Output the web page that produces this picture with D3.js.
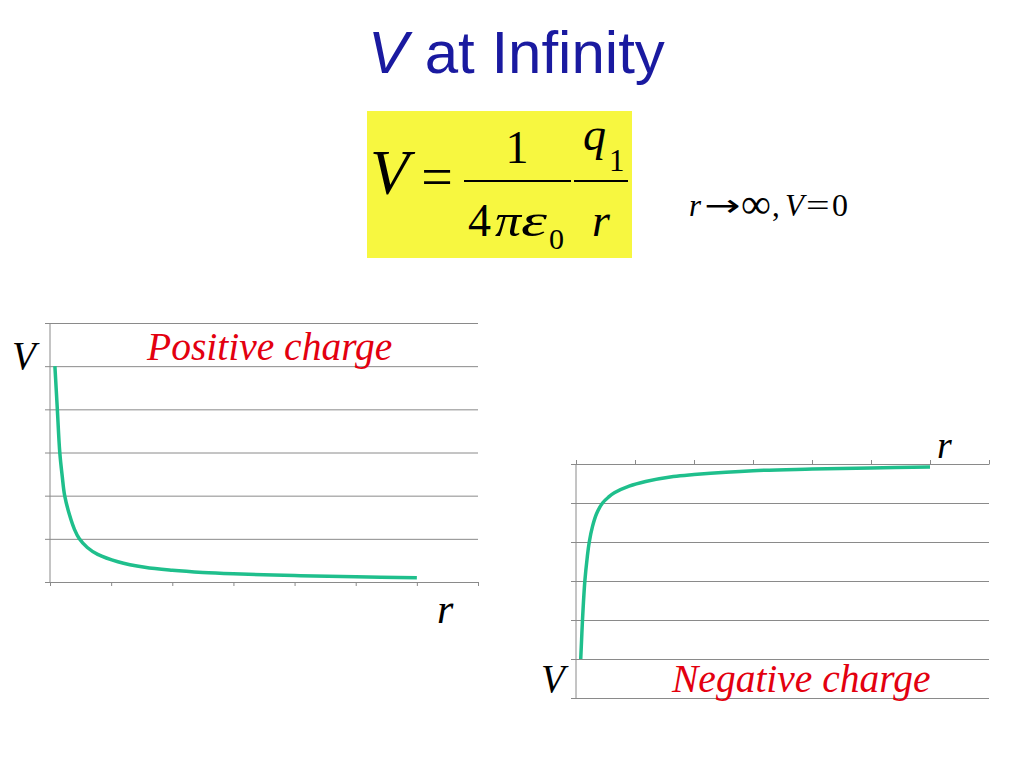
<!DOCTYPE html>
<html>
<head>
<meta charset="utf-8">
<script src="https://cdn.jsdelivr.net/npm/d3@7"></script>
<style>
  body { margin: 0; background: #fff; }
  svg { display: block; }
</style>
</head>
<body>
<div class="slide"></div>
<script>
// values (r in tick units, V in gridline units)
var posR = [0.08, 0.1, 0.12, 0.16, 0.2, 0.24, 0.32, 0.4, 0.48, 0.61, 0.78, 1.11, 1.55, 2.0, 2.5, 3.0, 4.0, 5.0, 6.0];
var posV = [5.0, 4.5, 4.0, 3.0, 2.45, 2.0, 1.55, 1.22, 1.0, 0.8, 0.64, 0.47, 0.34, 0.27, 0.22, 0.19, 0.15, 0.12, 0.1];
var negR = [0.08, 0.095, 0.11, 0.15, 0.19, 0.225, 0.28, 0.35, 0.45, 0.55, 0.65, 0.9, 1.18, 1.65, 2.0, 3.0, 4.0, 5.0, 6.0];
var negV = [-5.0, -4.5, -4.0, -3.0, -2.4, -2.0, -1.6, -1.27, -1.0, -0.85, -0.74, -0.57, -0.45, -0.32, -0.27, -0.17, -0.13, -0.1, -0.08];
var rTicks = [0, 1, 2, 3, 4, 5, 6, 7];
var posTicks = [0, 1, 2, 3, 4, 5, 6];
var negTicks = [-6, -5, -4, -3, -2, -1, 0];

var W = 1024, H = 768;
var gridColor = "#8a8a8a";
var curveColor = "#1fbf8c";
var red = "#e3000f";
var serif = "'Liberation Serif', 'Times New Roman', serif";

var svg = d3.select(".slide").append("svg").attr("width", W).attr("height", H);

// title
var title = svg.append("text").attr("x", 368).attr("y", 73)
    .attr("font-family", "'Liberation Sans', Arial, sans-serif").attr("font-size", 60).attr("fill", "#1a1aa0");
title.append("tspan").attr("font-style", "italic").text("V");
title.append("tspan").text(" at Infinity");

// formula box
svg.append("rect").attr("x", 367).attr("y", 111).attr("width", 265).attr("height", 147).attr("fill", "#f7f740");

function addText(x, y, size, txt, italic, anchor) {
    return svg.append("text").attr("x", x).attr("y", y).attr("font-family", serif)
        .attr("font-size", size).attr("font-style", italic ? "italic" : "normal")
        .attr("text-anchor", anchor || "start").attr("fill", "#000").text(txt);
}

// a symbol stretched sideways, placed by transform
function wideSymbol(x, y, sx, sy, size, family, txt) {
    return svg.append("text").attr("transform", "translate(" + x + "," + y + ") scale(" + sx + "," + sy + ")")
        .attr("font-family", family).attr("font-size", size).attr("fill", "#000").text(txt);
}

function fracBar(x1, x2) {
    svg.append("line").attr("x1", x1).attr("x2", x2).attr("y1", 181).attr("y2", 181)
        .attr("stroke", "#000").attr("stroke-width", 2);
}

addText(370, 194, 64, "V", true);
addText(437, 196, 56, "=", false, "middle");
fracBar(464, 571);
addText(517, 163, 46, "1", false, "middle");
addText(468, 236, 46, "4", false);
addText(495, 236, 46, "π", true).attr("textLength", 26).attr("lengthAdjust", "spacingAndGlyphs");
addText(521, 236, 46, "ε", true).attr("textLength", 26).attr("lengthAdjust", "spacingAndGlyphs");
addText(549, 249, 30, "0", false);
fracBar(574, 628);
addText(583, 150, 46, "q", true);
addText(609, 171, 31, "1", false);
addText(592, 236, 46, "r", true);

// r -> infinity, V = 0
addText(689, 216, 31, "r", true);
wideSymbol(704, 216, 1.55, 1.1, 28, "'DejaVu Sans', sans-serif", "→");
addText(741, 218, 42, "∞", false);
addText(772, 216, 31, ",", false);
addText(785, 216, 31, "V", true);
wideSymbol(806, 216, 1.35, 1, 31, serif, "=");
addText(832, 216, 32, "0", false);

function drawChart(opts) {
    var g = svg.append("g");
    var x = d3.scaleLinear().domain([0, 7]).range([opts.x0, opts.x1]);
    var y = d3.scaleLinear().domain(opts.yDomain).range([opts.y1, opts.y0]);

    // horizontal gridlines with short outer ticks on the left
    var yAxis = g.append("g").attr("transform", "translate(" + opts.x0 + ",0)")
        .call(d3.axisLeft(y).tickValues(opts.yTicks).tickSize(-(opts.x1 - opts.x0)).tickFormat(""));
    yAxis.select(".domain").remove();
    yAxis.selectAll(".tick line").attr("x1", -5).attr("stroke", gridColor);

    // vertical axis line
    g.append("line").attr("x1", opts.x0).attr("x2", opts.x0)
        .attr("y1", opts.y0).attr("y2", opts.y1).attr("stroke", gridColor);

    // r axis with small ticks
    var xa = opts.top ? d3.axisTop(x) : d3.axisBottom(x);
    var xAxis = g.append("g").attr("transform", "translate(0," + y(0) + ")")
        .call(xa.tickValues(rTicks).tickSize(4).tickSizeOuter(0).tickFormat(""));
    xAxis.select(".domain").attr("stroke", gridColor);
    xAxis.selectAll(".tick line").attr("stroke", gridColor);

    var line = d3.line().x(function (d) { return x(d[0]); }).y(function (d) { return y(d[1]); })
        .curve(d3.curveCatmullRom.alpha(0.5));
    g.append("path").datum(d3.zip(opts.r, opts.v)).attr("d", line)
        .attr("fill", "none").attr("stroke", curveColor).attr("stroke-width", 3.5)
        .attr("stroke-linejoin", "round");
}

drawChart({x0: 50, x1: 478, y0: 323, y1: 582, yDomain: [0, 6], yTicks: posTicks, r: posR, v: posV, top: false});
drawChart({x0: 576, x1: 989, y0: 464, y1: 698, yDomain: [-6, 0], yTicks: negTicks, r: negR, v: negV, top: true});

// labels
addText(12, 369, 39, "V", true);
addText(147, 360, 39.5, "Positive charge", true).attr("fill", red);
addText(437, 623, 42, "r", true);

addText(937, 458, 38, "r", true);
addText(541, 692, 39, "V", true);
addText(672, 692, 39.5, "Negative charge", true).attr("fill", red);
</script>
</body>
</html>
